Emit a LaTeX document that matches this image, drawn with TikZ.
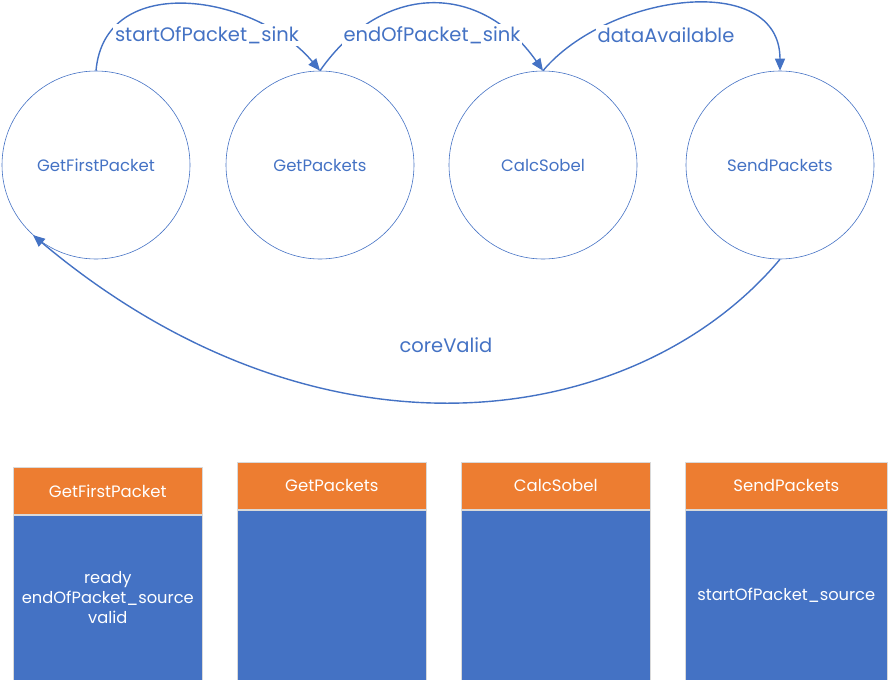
\documentclass[tikz,border=0pt]{standalone}
\usepackage{fontspec}
\setmainfont{Poppins}
\usetikzlibrary{arrows.meta,positioning}
\definecolor{stateblue}{HTML}{4472C4}
\definecolor{headorange}{HTML}{ED7D31}

\begin{document}
\begin{tikzpicture}[x=1pt,y=1pt,
  state/.style={draw=stateblue,line width=0.6pt,circle,minimum size=188pt,inner sep=0pt,text=stateblue,font=\fontsize{16.5}{18}\selectfont},
  trans/.style={draw=stateblue,line width=1.4pt,-{Triangle[length=12pt,width=10pt]}},
  elabel/.style={fill=white,text=stateblue,inner sep=2pt,font=\fontsize{19.5}{22}\selectfont},
  head/.style={fill=headorange,draw=gray!30,line width=0.6pt,text=white,minimum height=47pt,inner sep=0pt,font=\fontsize{16.5}{18}\selectfont},
  body/.style={fill=stateblue,draw=gray!30,line width=0.6pt,text=white,align=center,inner sep=0pt,font=\fontsize{16.3}{20}\selectfont}]
  \useasboundingbox (0,0) rectangle (889,-680);

  %states
  \node[state] (c1) at (96,-165) {GetFirstPacket};
  \node[state] (c2) at (320,-165) {GetPackets};
  \node[state] (c3) at (543,-165) {CalcSobel};
  \node[state] (c4) at (780,-165) {SendPackets};

  %transitions
  \draw[trans] (c1.north) to[out=85,in=130,looseness=1.15] (c2.north);
  \draw[trans] (c2.north) to[out=55,in=125,looseness=1.25] (c3.north);
  \draw[trans] (c3.north) to[out=50,in=90,looseness=1.09] (c4.north);
  \draw[trans] (c4.south) to[out=-130,in=-40,out distance=220pt,in distance=380pt] (c1.228);

  %transition labels
  \node[elabel] (l1) at (207,-35) {startOfPacket\_sink};
  \node[elabel] (l2) at (432,-35) {endOfPacket\_sink};
  \node[elabel] (l3) at (666,-35) {dataAvailable};
  \node[elabel] (l4) at (446,-345) {coreValid};

  %state tables
  \node[head,minimum width=189pt,anchor=north west] (h1) at (13,-467) {GetFirstPacket};
  \node[body,minimum width=189pt,minimum height=165pt,anchor=north] (b1) at (h1.south) {ready\\endOfPacket\_source\\valid};
  \node[head,minimum width=189pt,anchor=north west] (h2) at (237,-462) {GetPackets};
  \node[body,minimum width=189pt,minimum height=170pt,anchor=north] (b2) at (h2.south) {};
  \node[head,minimum width=189pt,anchor=north west] (h3) at (461,-462) {CalcSobel};
  \node[body,minimum width=189pt,minimum height=170pt,anchor=north] (b3) at (h3.south) {};
  \node[head,minimum width=202pt,anchor=north west] (h4) at (685,-462) {SendPackets};
  \node[body,minimum width=202pt,minimum height=170pt,anchor=north] (b4) at (h4.south) {startOfPacket\_source};
\end{tikzpicture}
\end{document}
